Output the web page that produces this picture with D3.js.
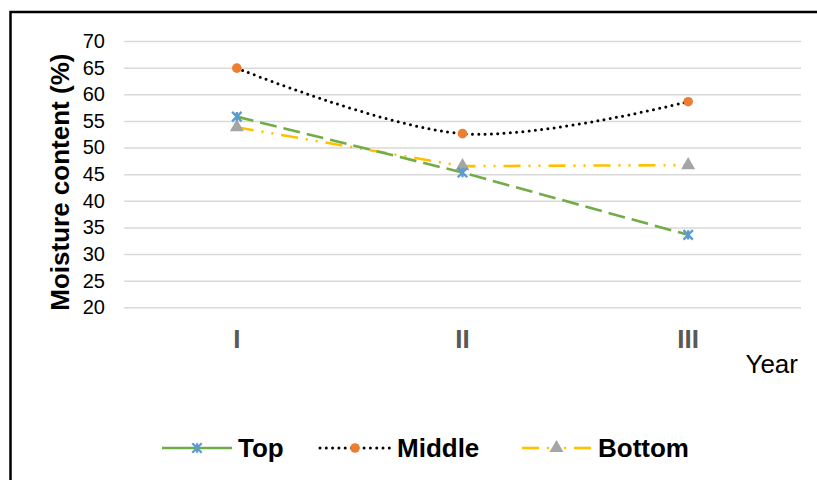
<!DOCTYPE html>
<html><head><meta charset="utf-8">
<script src="https://cdn.jsdelivr.net/npm/d3@7"></script>
<style>body{margin:0;background:#fff}svg{display:block;font-family:"Liberation Sans",Arial,sans-serif}</style>
</head><body>
<svg id="chart" width="817" height="480"></svg>
<script>
const categories = ["I", "II", "III"];
const topValues = [55.8, 45.3, 33.6];
const middleValues = [64.9, 52.6, 58.6];
const bottomValues = [53.8, 46.5, 46.7];
const yTicks = [20, 25, 30, 35, 40, 45, 50, 55, 60, 65, 70];
const seriesNames = ["Top", "Middle", "Bottom"];

const svg = d3.select("#chart");
const W = 817, H = 480;
const plot = {left: 124, right: 801, top: 41, bottom: 307.3};

svg.append("rect").attr("x", 0).attr("y", 0).attr("width", W).attr("height", H).attr("fill", "#fff");
// outer frame
svg.append("rect").attr("x", 10.5).attr("y", 12).attr("width", 900).attr("height", 600)
  .attr("fill", "none").attr("stroke", "#000").attr("stroke-width", 2.5);

const x = d3.scaleBand().domain(categories).range([plot.left, plot.right]);
const y = d3.scaleLinear().domain([20, 70]).range([plot.bottom, plot.top]);
const cx = c => x(c) + x.bandwidth() / 2;

// gridlines
const yAxis = d3.axisLeft(y).tickValues(yTicks).tickSize(-(plot.right - plot.left)).tickPadding(19);
const gy = svg.append("g").attr("transform", `translate(${plot.left},0)`).call(yAxis);
gy.select(".domain").remove();
gy.selectAll(".tick line").attr("stroke", "#d9d9d9").attr("stroke-width", 1.5);
gy.selectAll(".tick text").attr("fill", "#000").style("font-size", "20px").attr("font-family", "Liberation Sans, Arial, sans-serif");

// x axis labels
const xAxis = d3.axisBottom(x).tickSize(0).tickPadding(22);
const gx = svg.append("g").attr("transform", `translate(0,${plot.bottom})`).call(xAxis);
gx.select(".domain").remove();
gx.selectAll(".tick text").attr("fill", "#595959").style("font-size", "26px").style("font-weight", "bold").attr("font-family", "Liberation Sans, Arial, sans-serif");

// axis titles
svg.append("text").attr("transform", `translate(69,${(plot.top + plot.bottom) / 2 + 8}) rotate(-90)`)
  .attr("text-anchor", "middle").style("font-size", "26px").style("font-weight", "bold").text("Moisture content (%)");
svg.append("text").attr("x", 798).attr("y", 373).attr("text-anchor", "end").style("font-size", "26px").text("Year");

const styles = {
  Top: {color: "#70ad47", dash: "17,7", cap: "butt", curve: d3.curveLinear, marker: "star", mcolor: "#5b9bd5", legendDash: null},
  Middle: {color: "#000", dash: "0,6.3", cap: "round", curve: d3.curveCardinal.tension(0), marker: "circle", mcolor: "#ed7d31", legendDash: "0,6.3"},
  Bottom: {color: "#ffc000", dash: "17,8,2,8,2,8", cap: "butt", curve: d3.curveLinear, marker: "triangle", mcolor: "#a5a5a5", legendDash: "17,8,2,8"}
};
const dataMap = {Top: topValues, Middle: middleValues, Bottom: bottomValues};

function drawMarker(g, type, px, py, color) {
  if (type === "circle") {
    g.append("circle").attr("cx", px).attr("cy", py).attr("r", 4.8).attr("fill", color);
  } else if (type === "triangle") {
    g.append("path").attr("d", d3.symbol().type(d3.symbolTriangle).size(85)()).attr("transform", `translate(${px},${py})`).attr("fill", color);
  } else {
    const s = 4.7;
    g.append("path").attr("d", `M${px - s},${py - s}L${px + s},${py + s}M${px - s},${py + s}L${px + s},${py - s}M${px},${py - s}L${px},${py + s}`)
      .attr("stroke", color).attr("stroke-width", 2.3).attr("fill", "none");
  }
}

const drawOrder = ["Middle", "Bottom", "Top"];
drawOrder.forEach(name => {
  const st = styles[name];
  const vals = dataMap[name];
  const line = d3.line().x((d, i) => cx(categories[i])).y(d => y(d)).curve(st.curve);
  svg.append("path").datum(vals).attr("d", line).attr("fill", "none").attr("stroke", st.color)
    .attr("stroke-width", name === "Middle" ? 3 : 2.6).attr("stroke-dasharray", st.dash).attr("stroke-linecap", st.cap);
});
drawOrder.forEach(name => {
  const st = styles[name];
  const g = svg.append("g");
  dataMap[name].forEach((v, i) => drawMarker(g, st.marker, cx(categories[i]), y(v), st.mcolor));
});

// legend
const legendY = 448;
const legendItems = [
  {name: "Top", x0: 162, x1: 232, tx: 238},
  {name: "Middle", x0: 320, x1: 390, tx: 397},
  {name: "Bottom", x0: 522, x1: 591, tx: 598}
];
legendItems.forEach(it => {
  const st = styles[it.name];
  const g = svg.append("g");
  if (it.name === "Bottom") {
    g.append("line").attr("x1", it.x0).attr("x2", it.x0 + 17).attr("y1", legendY).attr("y2", legendY).attr("stroke", st.color).attr("stroke-width", 2.6);
    g.append("circle").attr("cx", it.x0 + 26).attr("cy", legendY).attr("r", 1.3).attr("fill", st.color);
    g.append("circle").attr("cx", it.x1 - 26).attr("cy", legendY).attr("r", 1.3).attr("fill", st.color);
    g.append("line").attr("x1", it.x1 - 17).attr("x2", it.x1).attr("y1", legendY).attr("y2", legendY).attr("stroke", st.color).attr("stroke-width", 2.6);
  } else {
    g.append("line").attr("x1", it.x0).attr("x2", it.x1).attr("y1", legendY).attr("y2", legendY)
      .attr("stroke", st.color).attr("stroke-width", it.name === "Middle" ? 3 : 2.6)
      .attr("stroke-dasharray", st.legendDash).attr("stroke-linecap", st.cap);
  }
  drawMarker(g, st.marker, (it.x0 + it.x1) / 2, legendY, st.mcolor);
  g.append("text").attr("x", it.tx).attr("y", legendY + 9).style("font-size", "26px").style("font-weight", "bold").text(it.name);
});
</script>
</body></html>
